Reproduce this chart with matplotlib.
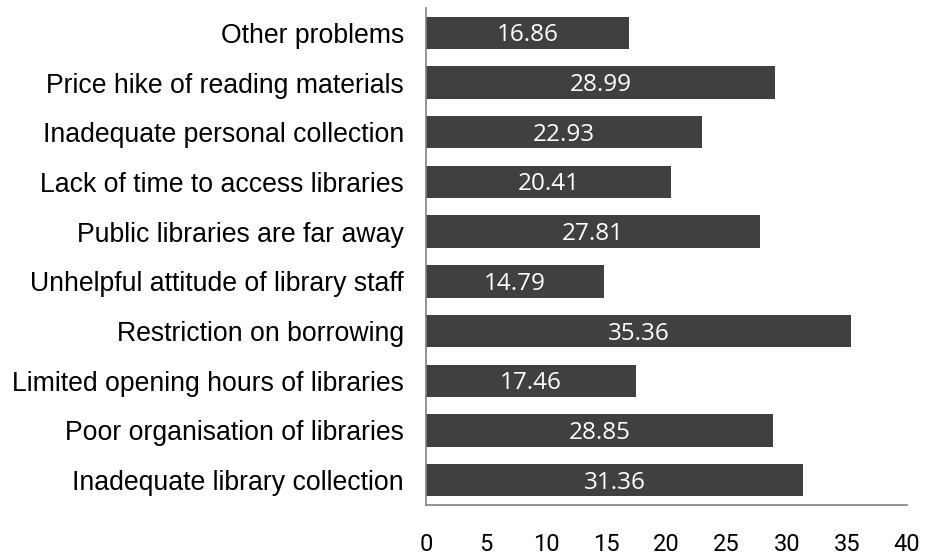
import matplotlib.pyplot as plt

categories = ["Inadequate library collection", "Poor organisation of libraries",
              "Limited opening hours of libraries", "Restriction on borrowing",
              "Unhelpful attitude of library staff", "Public libraries are far away",
              "Lack of time to access libraries", "Inadequate personal collection",
              "Price hike of reading materials", "Other problems"]
values = [31.36, 28.85, 17.46, 35.36, 14.79, 27.81, 20.41, 22.93, 28.99, 16.86]
xticks = [0, 5, 10, 15, 20, 25, 30, 35, 40]

fig = plt.figure(figsize=(9.38, 5.56), dpi=100)
ax = fig.add_axes([426 / 938, 1 - 505 / 556, (907 - 426) / 938, (505 - 8) / 556])

ypos = range(len(categories))
bars = ax.barh(ypos, values, height=0.65, color='#404040')
for y, v in zip(ypos, values):
    ax.text(v / 2, y - 0.05, f"{v:.2f}", ha='center', va='center', color='white',
            fontsize=17.5, family='Open Sans')

ax.set_xlim(0, 40)
ax.set_ylim(-0.5, 9.5)
ax.set_yticks(list(ypos))
ax.set_yticklabels(categories, fontsize=19.2, family='Liberation Sans')
ax.set_xticks(xticks)
ax.set_xticklabels([str(t) for t in xticks], fontsize=17, family='Roboto')
ax.tick_params(axis='y', length=0, pad=16)
ax.tick_params(axis='x', length=0, pad=20)

for s in ['top', 'right']:
    ax.spines[s].set_visible(False)
for s in ['left', 'bottom']:
    ax.spines[s].set_color('#808080')
    ax.spines[s].set_linewidth(1.2)

fig.savefig("out.png", dpi=100)
